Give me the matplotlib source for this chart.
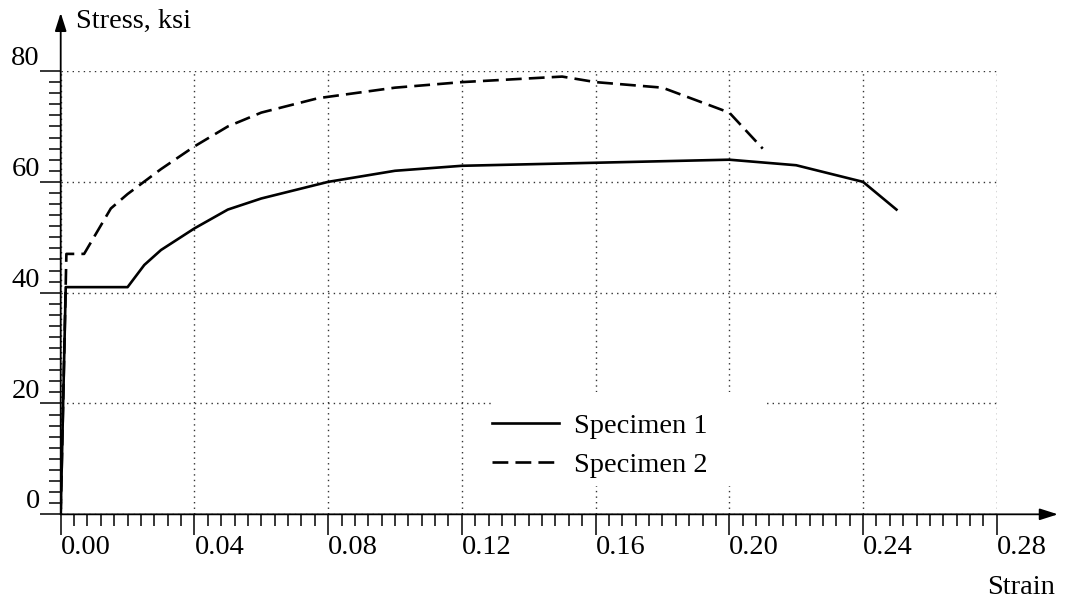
import matplotlib.pyplot as plt
from matplotlib.patches import Rectangle
from matplotlib.ticker import MultipleLocator, FormatStrFormatter

strain_1 = [0.0, 0.0015, 0.020, 0.025, 0.030, 0.040, 0.050, 0.060, 0.080,
            0.100, 0.120, 0.200, 0.220, 0.240, 0.250]
stress_1 = [0.0, 41.0, 41.0, 45.0, 47.7, 51.6, 55.0, 57.0, 60.0,
            62.0, 62.9, 64.0, 63.0, 60.0, 55.0]

strain_2 = [0.0, 0.0017, 0.007, 0.015, 0.020, 0.030, 0.040, 0.050, 0.060,
            0.077, 0.100, 0.120, 0.150, 0.160, 0.180, 0.200, 0.210]
stress_2 = [0.0, 47.0, 47.0, 55.2, 57.8, 62.3, 66.4, 70.0, 72.5,
            75.1, 77.0, 78.0, 79.0, 78.0, 77.0, 72.5, 66.0]

labels = ["Specimen 1", "Specimen 2"]

plt.rcParams['font.family'] = 'Liberation Serif'
plt.rcParams['font.size'] = 20.5

fig = plt.figure(figsize=(10.65, 6), dpi=100)
ax = fig.add_axes([0.0570, 0.1428, 0.8789, 0.7388])

# curvas
ax.plot(strain_1, stress_1, color='black', lw=1.9, label=labels[0], zorder=3)
ax.plot(strain_2, stress_2, color='black', lw=1.9, linestyle=(0, (6, 2.7)),
        label=labels[1], zorder=3)

ax.set_xlim(0, 0.28)
ax.set_ylim(0, 80)

# ejes con flechas en lugar de spines
for s in ax.spines.values():
    s.set_visible(False)
arrow = dict(arrowstyle='-|>,head_length=1.1,head_width=0.35', color='black',
             lw=1.3, shrinkA=0, shrinkB=0, mutation_scale=10)
ax.annotate('', xy=(0.2983, 0), xytext=(0, 0), arrowprops=arrow,
            annotation_clip=False, zorder=4)
ax.annotate('', xy=(0, 90.5), xytext=(0, 0), arrowprops=arrow,
            annotation_clip=False, zorder=4)

# ticks
ax.xaxis.set_major_locator(MultipleLocator(0.04))
ax.xaxis.set_minor_locator(MultipleLocator(0.004))
ax.yaxis.set_major_locator(MultipleLocator(20))
ax.yaxis.set_minor_locator(MultipleLocator(2))
ax.xaxis.set_major_formatter(FormatStrFormatter('%.2f'))
ax.tick_params(which='major', length=15, width=1.1, direction='out', pad=0)
ax.tick_params(which='minor', length=8.5, width=1.1, direction='out')
plt.setp(ax.get_xticklabels(), ha='left')
plt.setp(ax.get_yticklabels(), va='bottom')

# rejilla punteada
ax.set_axisbelow(True)
ax.grid(True, which='major', color='0.2', linestyle=(0, (1, 3)), lw=1.0)

# fondo blanco de la leyenda
ax.add_patch(Rectangle((0.4608, 0.0638), 0.2895, 0.2121, transform=ax.transAxes,
                       facecolor='white', edgecolor='none', zorder=1))
ax.legend(loc='center left', bbox_to_anchor=(0.4605, 0.1558), frameon=False,
          borderpad=0, borderaxespad=0, handlelength=2.35, handletextpad=0.55,
          labelspacing=0.46)

# titulos de los ejes
fig.text(0.0714, 0.9533, "Stress, ksi", va='baseline', ha='left')
fig.text(0.9906, 0.01, "Strain", va='baseline', ha='right')

fig.savefig('out.png', dpi=100)
